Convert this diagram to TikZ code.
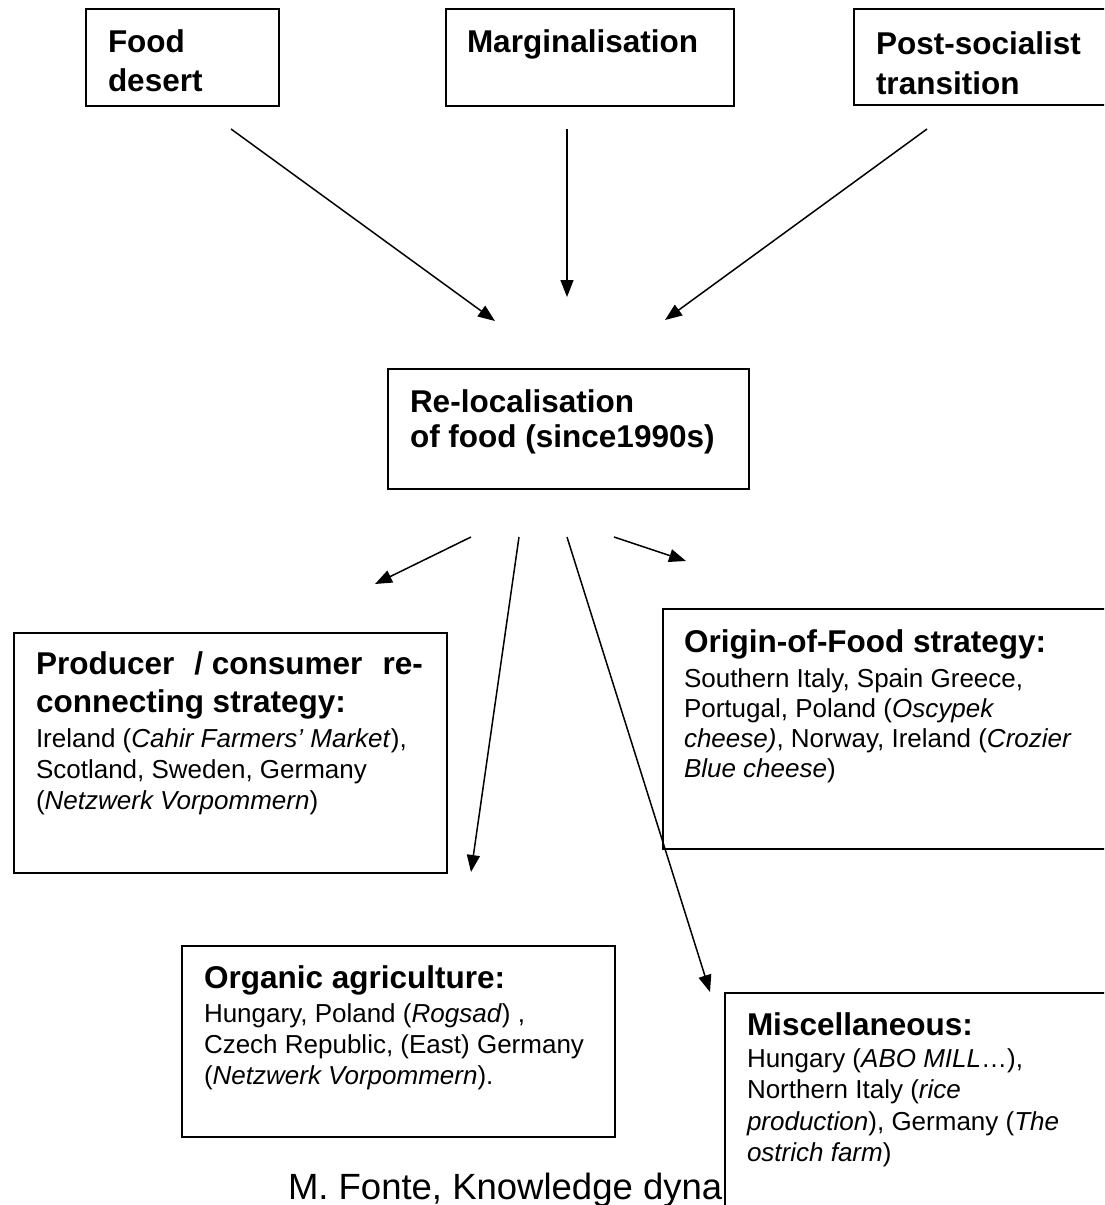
\documentclass[tikz,border=0pt]{standalone}
\usepackage{fontspec}
\setmainfont{Liberation Sans}
\usetikzlibrary{arrows.meta}
\tikzset{
  box/.style={draw=black, line width=1.8pt, fill=white, anchor=north west, inner sep=0pt, outer sep=0pt},
  txt/.style={anchor=base west, inner sep=0pt, outer sep=0pt, text=black},
  arr/.style={draw=black, line width=1.5pt, -{Triangle[length=17pt,width=13pt]}},
}
\newcommand{\ttlA}[1]{\fontsize{31.5pt}{#1}\selectfont\bfseries}
\newcommand{\bodyB}[2]{\par\vspace{#1}\fontsize{26pt}{#2}\selectfont\mdseries}
\begin{document}
\begin{tikzpicture}[x=1pt,y=-1pt]
\clip (0,0) rectangle (1104,1205);
\fill[white] (0,0) rectangle (1104,1205);

% top boxes
\node[box, minimum width=193pt, minimum height=97pt] (fd) at (86,9) {};
\node[box, minimum width=288pt, minimum height=97pt] (mg) at (446,9) {};
\node[box, minimum width=300pt, minimum height=96pt] (ps) at (854,9) {};
\node[txt] (fdT) at (108,52) {\parbox[t]{180pt}{\raggedright\ttlA{39pt}Food\\desert}};
\node[txt] (mgT) at (467,52) {\parbox[t]{260pt}{\raggedright\ttlA{39pt}Marginalisation}};
\node[txt] (psT) at (876,54) {\parbox[t]{260pt}{\raggedright\ttlA{40pt}Post-socialist\\transition}};

% central box
\node[box, minimum width=361pt, minimum height=120pt] (rl) at (388,369) {};
\node[txt] (rlT) at (410,412) {\parbox[t]{340pt}{\raggedright\ttlA{35pt}Re-localisation\\of food (since1990s)}};

% arrows into central box
\coordinate (fdS) at (231,129); \coordinate (fdE) at (495,321);
\coordinate (mgS) at (567,129); \coordinate (mgE) at (567,297);
\coordinate (psS) at (927,129); \coordinate (psE) at (665,320);
\draw[arr] (fdS) -- (fdE);
\draw[arr] (mgS) -- (mgE);
\draw[arr] (psS) -- (psE);

% producer box
\node[box, minimum width=433pt, minimum height=240pt] (pr) at (14,633) {};
\node[txt] (prT) at (36,674) {\parbox[t]{400pt}{\raggedright\ttlA{38pt}\leavevmode\hbox to 387pt{Producer\hfill/ consumer\hfill re-}\\connecting strategy:%
\bodyB{4pt}{31pt}Ireland (\textit{Cahir Farmers’ Market}),\\Scotland, Sweden, Germany\\(\textit{Netzwerk Vorpommern})}};

% origin box
\node[box, minimum width=500pt, minimum height=240pt] (og) at (663,609) {};
\node[txt] (ogT) at (684,652) {\parbox[t]{420pt}{\raggedright\ttlA{38pt}Origin-of-Food strategy:%
\bodyB{5pt}{30pt}Southern Italy, Spain Greece,\\Portugal, Poland (\textit{Oscypek}\\\textit{cheese)}, Norway, Ireland (\textit{Crozier}\\\textit{Blue cheese})}};

% organic box
\node[box, minimum width=433pt, minimum height=191pt] (oa) at (182,946) {};
\node[txt] (oaT) at (204,988) {\parbox[t]{410pt}{\raggedright\ttlA{38pt}Organic agriculture:%
\bodyB{3pt}{31pt}Hungary, Poland (\textit{Rogsad}) ,\\Czech Republic, (East) Germany\\(\textit{Netzwerk Vorpommern}).}};

% footer text (partly covered by the miscellaneous box)
\node[txt] (ft) at (288,1199) {\fontsize{36.5pt}{40pt}\selectfont M. Fonte, Knowledge dyna};

% miscellaneous box
\node[box, minimum width=450pt, minimum height=300pt] (mi) at (725,993) {};
\node[txt] (miT) at (747,1035) {\parbox[t]{400pt}{\raggedright\ttlA{38pt}Miscellaneous:%
\bodyB{0.5pt}{31.5pt}Hungary (\textit{ABO MILL}…),\\Northern Italy (\textit{rice}\\\textit{production}), Germany (\textit{The}\\\textit{ostrich farm})}};

% arrows out of central box
\coordinate (b1S) at (471,537); \coordinate (b1E) at (375,584);
\coordinate (b2S) at (519,537); \coordinate (b2E) at (471,872);
\coordinate (b3S) at (567,537); \coordinate (b3E) at (710,992);
\coordinate (b4S) at (614,537); \coordinate (b4E) at (686,561);
\draw[arr] (b1S) -- (b1E);
\draw[arr] (b2S) -- (b2E);
\draw[arr] (b3S) -- (b3E);
\draw[arr] (b4S) -- (b4E);
\end{tikzpicture}
\end{document}
